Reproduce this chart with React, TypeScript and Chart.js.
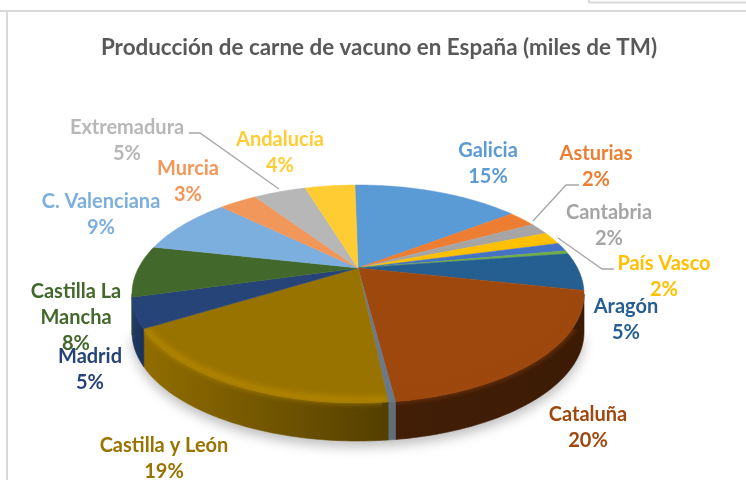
import React, { useEffect, useRef } from "react";
import { Chart, registerables } from "chart.js";

Chart.register(...registerables);

const categories = ["Galicia", "Asturias", "Cantabria", "País Vasco", "Navarra", "La Rioja", "Aragón", "Cataluña", "Baleares", "Castilla y León", "Madrid", "Castilla La Mancha", "C. Valenciana", "Murcia", "Extremadura", "Andalucía"];
const values = [15.0, 2.5, 1.8, 1.9, 1.3, 0.5, 5.6, 19.6, 0.4, 18.0, 4.4, 7.7, 8.7, 3.4, 4.7, 4.5];
const colors = ["#5B9BD5", "#ED7D31", "#A5A5A5", "#FFC000", "#4472C4", "#70AD47", "#255E91", "#9E480E", "#6B7A8A", "#997300", "#264478", "#43682B", "#7CAFDD", "#F1975A", "#B7B7B7", "#FFCD33"];
const wallShades = [[.7,.7],[.7,.7],[.7,.7],[.7,.7],[.7,.7],[.7,.7],[.55,.45],[.42,.38],[.9,.9],[.95,.55],[.85,.7],[.7,.7],[.7,.7],[.7,.7],[.7,.7],[.7,.7]];

const TITLE = "Producción de carne de vacuno en España (miles de TM)";
// text, colour, centre x, first-line y
const dataLabels: [string[], string, number, number][] = [
  [["Galicia", "15%"], "#5B9BD5", 488, 151],
  [["Asturias", "2%"], "#ED7D31", 596, 154],
  [["Cantabria", "2%"], "#A5A5A5", 609, 213],
  [["País Vasco", "2%"], "#FFC000", 664, 264],
  [["Aragón", "5%"], "#255E91", 626, 307],
  [["Cataluña", "20%"], "#9E480E", 588, 415],
  [["Castilla y León", "19%"], "#997300", 164, 446],
  [["Castilla La", "Mancha", "8%"], "#43682B", 76, 292],
  [["Madrid", "5%"], "#264478", 90, 357],
  [["C. Valenciana", "9%"], "#7CAFDD", 101, 202],
  [["Murcia", "3%"], "#F1975A", 188, 169],
  [["Extremadura", "5%"], "#B7B7B7", 127, 128],
  [["Andalucía", "4%"], "#FFCD33", 280, 140],
];
const leaders = [
  [[189, 133], [200, 133], [279, 189]],
  [[579, 185], [566, 185], [533, 221]],
  [[614, 269], [602, 269], [558, 238]],
];

// projective view of the pie disc
const CX = 358, CY = 268, K = -0.2385, A = 219.5, B = 102.8, DEPTH = 38;
const project = (a: number): [number, number] => {
  const d = 1 + K * Math.sin(a);
  return [CX + (A * Math.cos(a)) / d, CY + (B * Math.sin(a)) / d];
};
const FRONT0 = Math.asin(-K), FRONT1 = Math.PI - FRONT0;
const shade = (hex: string, f: number) => {
  const n = parseInt(hex.slice(1), 16);
  const c = [(n >> 16) & 255, (n >> 8) & 255, n & 255].map((v) => Math.min(255, Math.round(v * f)));
  return `rgb(${c[0]},${c[1]},${c[2]})`;
};
const rimPoints = (a0: number, a1: number, dy = 0) => {
  const n = Math.max(2, Math.ceil((a1 - a0) * 60));
  const pts: [number, number][] = [];
  for (let i = 0; i <= n; i++) {
    const p = project(a0 + ((a1 - a0) * i) / n);
    pts.push([p[0], p[1] + dy]);
  }
  return pts;
};

const tiltedPie = {
  id: "tiltedPie",
  beforeDraw(chart: any) {
    const { ctx, width, height } = chart;
    ctx.save();
    ctx.fillStyle = "#fff";
    ctx.fillRect(0, 0, width, height);
    ctx.strokeStyle = "#D9D9D9";
    ctx.lineWidth = 2;
    ctx.beginPath();
    ctx.moveTo(0, 11); ctx.lineTo(746, 11);
    ctx.moveTo(7, 11); ctx.lineTo(7, 480);
    ctx.moveTo(589, 0); ctx.lineTo(589, 2.5); ctx.lineTo(746, 2.5);
    ctx.stroke();
    ctx.restore();
  },
  beforeDatasetDraw(chart: any, args: any) {
    const { ctx } = chart;
    const arcs = args.meta.data;
    ctx.save();
    // soft shadow
    ctx.save();
    ctx.filter = "blur(6px)";
    ctx.fillStyle = "rgba(0,0,0,0.25)";
    ctx.beginPath();
    rimPoints(FRONT0, FRONT1, DEPTH + 6).forEach((p, i) => (i ? ctx.lineTo(p[0], p[1]) : ctx.moveTo(p[0], p[1])));
    ctx.closePath();
    ctx.fill();
    ctx.restore();
    // walls
    arcs.forEach((arc: any, i: number) => {
      const a0 = Math.max(arc.startAngle, FRONT0), a1 = Math.min(arc.endAngle, FRONT1);
      if (a1 <= a0) return;
      const top = rimPoints(a0, a1);
      const bottom = rimPoints(a0, a1, DEPTH).reverse();
      const g = ctx.createLinearGradient(top[0][0], 0, top[top.length - 1][0], 0);
      g.addColorStop(0, shade(colors[i], wallShades[i][1]));
      g.addColorStop(1, shade(colors[i], wallShades[i][0]));
      ctx.fillStyle = g;
      ctx.strokeStyle = g;
      ctx.lineWidth = 0.6;
      ctx.beginPath();
      [...top, ...bottom].forEach((p, k) => (k ? ctx.lineTo(p[0], p[1]) : ctx.moveTo(p[0], p[1])));
      ctx.closePath();
      ctx.fill();
      ctx.stroke();
    });
    // top faces
    arcs.forEach((arc: any, i: number) => {
      ctx.fillStyle = colors[i];
      ctx.strokeStyle = colors[i];
      ctx.lineWidth = 0.5;
      ctx.beginPath();
      ctx.moveTo(CX, CY);
      rimPoints(arc.startAngle, arc.endAngle).forEach((p) => ctx.lineTo(p[0], p[1]));
      ctx.closePath();
      ctx.fill();
      ctx.stroke();
    });
    // bevel along the front rim, kept inside each slice and its wall
    arcs.forEach((arc: any, i: number) => {
      const a0 = Math.max(arc.startAngle, FRONT0), a1 = Math.min(arc.endAngle, FRONT1);
      if (a1 <= a0) return;
      ctx.save();
      ctx.beginPath();
      ctx.moveTo(CX, CY);
      [...rimPoints(a0, a1), ...rimPoints(a0, a1, DEPTH).reverse()].forEach((p) => ctx.lineTo(p[0], p[1]));
      ctx.closePath();
      ctx.moveTo(CX, CY);
      rimPoints(a0, a1).forEach((p) => ctx.lineTo(p[0], p[1]));
      ctx.closePath();
      ctx.clip();
      ctx.filter = "blur(3px)";
      ctx.strokeStyle = shade(colors[i], wallShades[i][0] > 0.9 ? 1.22 : 1.0);
      ctx.lineWidth = 5;
      ctx.beginPath();
      rimPoints(a0, a1, -3).forEach((p, k) => (k ? ctx.lineTo(p[0], p[1]) : ctx.moveTo(p[0], p[1])));
      ctx.stroke();
      ctx.restore();
    });
    ctx.restore();
    return false;
  },
  afterDraw(chart: any) {
    const { ctx } = chart;
    ctx.save();
    ctx.strokeStyle = "#A6A6A6";
    ctx.lineWidth = 1.3;
    leaders.forEach((l) => {
      ctx.beginPath();
      l.forEach((p, i) => (i ? ctx.lineTo(p[0], p[1]) : ctx.moveTo(p[0], p[1])));
      ctx.stroke();
    });
    ctx.font = "bold 20px Lato";
    ctx.textAlign = "center";
    ctx.textBaseline = "middle";
    dataLabels.forEach(([lines, color, x, y]) => {
      ctx.fillStyle = color;
      lines.forEach((t, i) => ctx.fillText(t, x, y + i * 26));
    });
    ctx.restore();
  },
};

export default function App() {
  const ref = useRef<HTMLCanvasElement>(null);
  useEffect(() => {
    const chart = new Chart(ref.current!, {
      type: "pie",
      data: { labels: categories, datasets: [{ data: values, backgroundColor: colors, borderWidth: 0 }] },
      options: {
        responsive: false,
        animation: false,
        rotation: -1,
        layout: { padding: { left: 12, top: 30 } },
        plugins: {
          legend: { display: false },
          tooltip: { enabled: false },
          title: { display: true, text: TITLE, color: "#595959", font: { family: "Lato", size: 22.4, weight: "bold" }, padding: { top: 4, bottom: 4 } },
        },
      },
      plugins: [tiltedPie],
    } as any);
    return () => chart.destroy();
  }, []);
  return (
    <div style={{ position: "fixed", left: 0, top: 0, width: 746, height: 480 }}>
      <canvas ref={ref} width={746} height={480} style={{ display: "block" }} />
    </div>
  );
}
